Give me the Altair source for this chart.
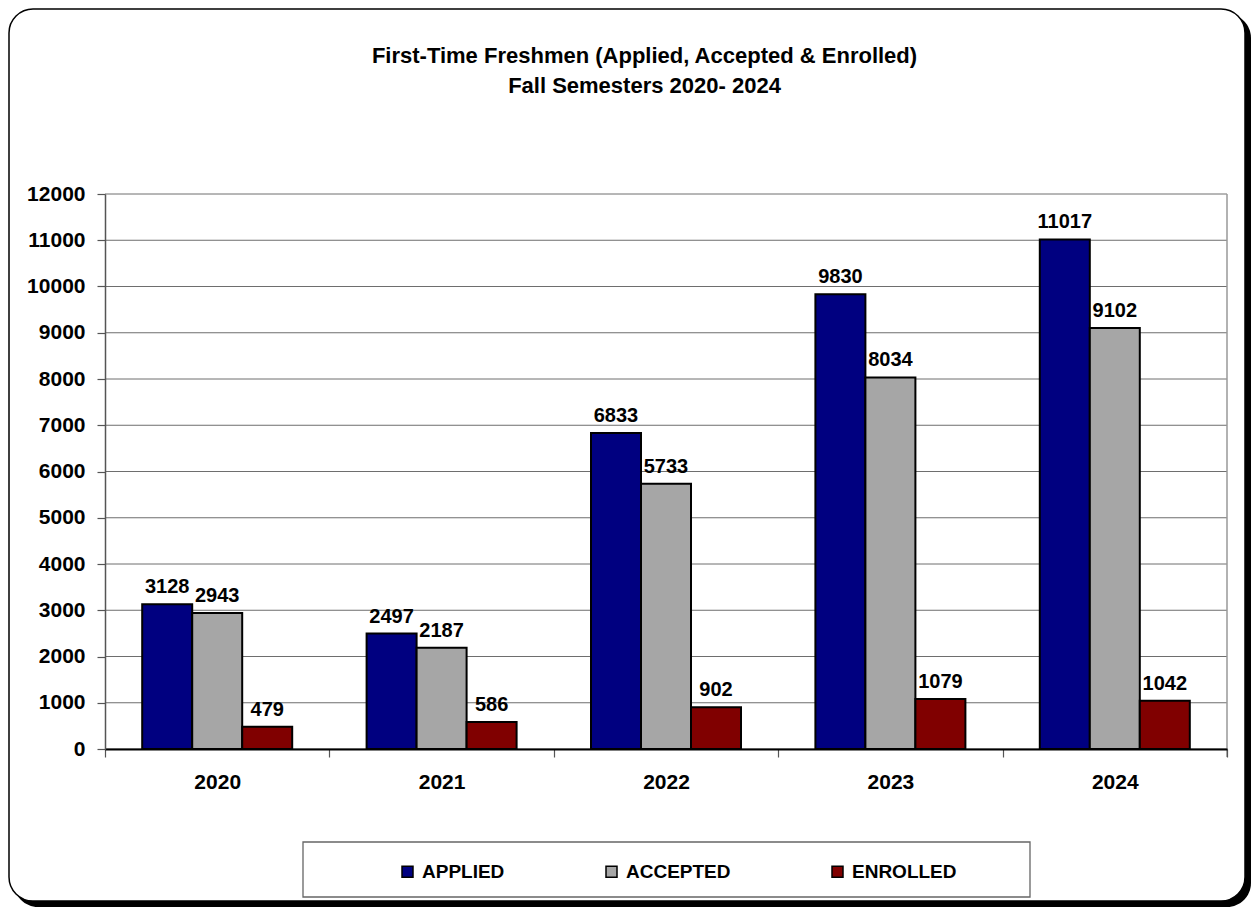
import altair as alt
import pandas as pd

# ---- data ----
years = ["2020", "2021", "2022", "2023", "2024"]
series = ["APPLIED", "ACCEPTED", "ENROLLED"]
applied = [3128, 2497, 6833, 9830, 11017]
accepted = [2943, 2187, 5733, 8034, 9102]
enrolled = [479, 586, 902, 1079, 1042]
colors = ["#000080", "#A6A6A6", "#800000"]
y_ticks = [0, 1000, 2000, 3000, 4000, 5000, 6000, 7000, 8000, 9000, 10000, 11000, 12000]
title_lines = ["First-Time Freshmen (Applied, Accepted & Enrolled)",
               "Fall Semesters 2020- 2024"]

rows = []
for i, yr in enumerate(years):
    for s, vals in zip(series, [applied, accepted, enrolled]):
        rows.append({"Year": yr, "Series": s, "Value": vals[i]})
df = pd.DataFrame(rows)
grid_df = pd.DataFrame({"Value": y_ticks})
one = pd.DataFrame({"a": [0]})

W, H = 1122, 555
PAD = {"left": 97, "top": 186, "right": 24, "bottom": 158}
FONT = "Liberation Sans"

yscale = alt.Scale(domain=[0, 12000], nice=False, zero=True)
y_axis = alt.Axis(title=None, values=y_ticks, format="d", grid=False,
                  domainColor="#555", domainWidth=1.5, tickColor="#555",
                  tickSize=8, tickWidth=1.2, labelFont=FONT, labelFontSize=21,
                  labelFontWeight="bold", labelColor="black", labelPadding=12,
                  zindex=1)

x_enc = alt.X("Year:N", sort=years,
              scale=alt.Scale(paddingInner=0, paddingOuter=0),
              axis=alt.Axis(title=None, labelAngle=0, tickBand="extent", grid=False,
                            domainColor="black", domainWidth=2, tickColor="#555",
                            tickSize=8, tickWidth=1.2, labelFont=FONT, labelFontSize=21,
                            labelFontWeight="bold", labelColor="black", labelPadding=14,
                            zindex=1))
xo_enc = alt.XOffset("Series:N", sort=series,
                     scale=alt.Scale(domain=series, paddingOuter=0.744, paddingInner=0))
y_enc = alt.Y("Value:Q", scale=yscale, axis=y_axis)

# decorative frame with shadow
shadow = alt.Chart(one).mark_rect(fill="black", cornerRadius=24).encode(
    x=alt.value(-91), x2=alt.value(1146), y=alt.value(-180), y2=alt.value(713))
frame = alt.Chart(one).mark_rect(fill="white", stroke="black", strokeWidth=1.5,
                                 cornerRadius=24).encode(
    x=alt.value(-96), x2=alt.value(1140), y=alt.value(-185), y2=alt.value(707))
legend_box = alt.Chart(one).mark_rect(fill="white", stroke="#666", strokeWidth=1.3).encode(
    x=alt.value(198), x2=alt.value(925), y=alt.value(648), y2=alt.value(703))

grid = alt.Chart(grid_df).mark_rule(color="#6e6e6e", strokeWidth=1).encode(y=y_enc)
right_border = alt.Chart(one).mark_rule(color="#999", strokeWidth=1.5).encode(
    x=alt.value(W), y=alt.value(0), y2=alt.value(H + 8))

bars = alt.Chart(df).mark_bar(stroke="black", strokeWidth=2).encode(
    x=x_enc, xOffset=xo_enc, y=y_enc,
    color=alt.Color("Series:N", sort=series,
                    scale=alt.Scale(domain=series, range=colors),
                    title=None,
                    legend=alt.Legend(orient="none", legendX=293, legendY=668,
                                      direction="horizontal", symbolType="square",
                                      symbolSize=121, symbolStrokeColor="black",
                                      symbolStrokeWidth=1.5, symbolOpacity=1,
                                      labelFont=FONT, labelFontSize=19,
                                      labelFontWeight="bold", labelColor="black",
                                      columnPadding=97, labelOffset=5, padding=0,
                                      zindex=1)))

labels = alt.Chart(df).mark_text(font=FONT, fontSize=20, fontWeight="bold",
                                 color="black", baseline="alphabetic", dy=-11).encode(
    x=x_enc, xOffset=xo_enc, y=y_enc, text=alt.Text("Value:Q", format="d"))

title = alt.Chart(one).mark_text(font=FONT, fontSize=22, fontWeight="bold", color="black",
                                 align="center", baseline="alphabetic",
                                 lineHeight=30).encode(
    x=alt.value(539.5), y=alt.value(-131), text=alt.value(title_lines))

chart = alt.layer(shadow, frame, legend_box, grid, right_border, bars, labels, title).properties(
    width=W, height=H,
    autosize=alt.AutoSizeParams(type="none"),
    padding=PAD,
    background="white",
).configure_view(stroke="transparent")

chart.save("out.html", embed_options={"renderer": "svg", "actions": False})
